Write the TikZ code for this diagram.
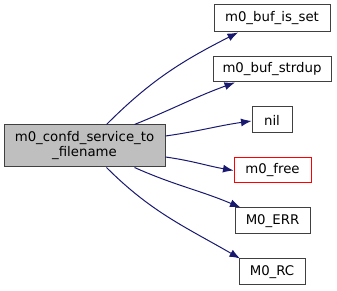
\documentclass[tikz,border=0pt]{standalone}
\usepackage{fontspec}
\setmainfont{DejaVu Sans}
\usetikzlibrary{arrows.meta}
\definecolor{edgeblue}{HTML}{191970}
\definecolor{mainfill}{HTML}{BFBFBF}
\begin{document}
\begin{tikzpicture}[x=1pt,y=1pt,
  fn/.style={draw=black!75, line width=1pt, inner sep=0pt, align=center,
    font=\fontsize{13.3}{15}\selectfont},
  call/.style={draw=edgeblue, line width=1pt,
    -{Latex[length=10.5pt,width=8pt]}}]
\useasboundingbox (0,0) rectangle (337,291);
\fill[white] (0,0) rectangle (337,291);

% caller
\node[fn, fill=mainfill, minimum width=161, minimum height=42] (main) at (84.5,145)
  {m0\_confd\_service\_to\\\_filename};

% callees
\node[fn, minimum width=116, minimum height=27] (isset)  at (272,272.5) {m0\_buf\_is\_set};
\node[fn, minimum width=118, minimum height=25] (strdup) at (272,221.5) {m0\_buf\_strdup};
\node[fn, minimum width=40,  minimum height=26] (nil)    at (272,171)   {nil};
\node[fn, draw=red, minimum width=77, minimum height=25] (free) at (272.5,120.5) {m0\_free};
\node[fn, minimum width=75,  minimum height=26] (err)    at (272.5,70)  {M0\_ERR};
\node[fn, minimum width=66,  minimum height=26] (rc)     at (272,19)    {M0\_RC};

% calls
\draw[call] ([xshift=22pt]main.north) to[out=45,in=207] ([xshift=-34pt]isset.south);
\draw[call] ([xshift=50pt]main.north) to[out=22,in=200] ([xshift=-37pt]strdup.south);
\draw[call] ([yshift=10pt]main.east) to[out=8,in=188] ([yshift=-1pt]nil.west);
\draw[call] ([yshift=-11pt]main.east) to[out=-8,in=170] (free.west);
\draw[call] ([xshift=50pt]main.south) to[out=-24,in=157] ([xshift=-32pt]err.north);
\draw[call] ([xshift=22pt]main.south) to[out=-45,in=150] ([xshift=-32pt]rc.north);
\end{tikzpicture}
\end{document}
